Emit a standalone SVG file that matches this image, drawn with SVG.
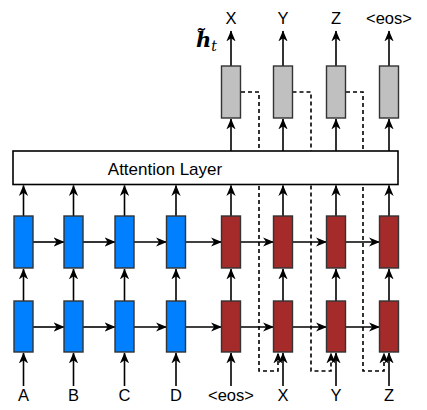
<svg xmlns="http://www.w3.org/2000/svg" width="427" height="410" viewBox="0 0 427 410">
<style>
.enc{fill:#0080ff;stroke:#333;stroke-width:1.4}
.dec{fill:#a52a2a;stroke:#333;stroke-width:1.4}
.gry{fill:#c0c0c0;stroke:#333;stroke-width:1.4}
.ln{stroke:#000;stroke-width:1.6;fill:none;marker-end:url(#ah)}
.ds{stroke:#000;stroke-width:1.6;fill:none;stroke-dasharray:4 3;marker-end:url(#ah)}
.lbl{font-family:"Liberation Sans",Arial,sans-serif;font-size:16.5px;fill:#000;text-anchor:middle}
</style>
<defs>
<marker id="ah" markerUnits="userSpaceOnUse" markerWidth="11" markerHeight="11" viewBox="0 0 10 10" refX="9.5" refY="5" orient="auto">
<path d="M0,0.8 L10,5 L0,9.2 L2.8,5 z" fill="#000"/>
</marker>
</defs>
<g id="connectors">
<line class="ln" x1="23.5" y1="386" x2="23.5" y2="353"/>
<line class="ln" x1="73.5" y1="386" x2="73.5" y2="353"/>
<line class="ln" x1="124.5" y1="386" x2="124.5" y2="353"/>
<line class="ln" x1="176" y1="386" x2="176" y2="353"/>
<line class="ln" x1="231" y1="386" x2="231" y2="353"/>
<line class="ln" x1="283" y1="386" x2="283" y2="353"/>
<line class="ln" x1="336" y1="386" x2="336" y2="353"/>
<line class="ln" x1="389" y1="386" x2="389" y2="353"/>
<line class="ln" x1="23.5" y1="301" x2="23.5" y2="269"/>
<line class="ln" x1="73.5" y1="301" x2="73.5" y2="269"/>
<line class="ln" x1="124.5" y1="301" x2="124.5" y2="269"/>
<line class="ln" x1="176" y1="301" x2="176" y2="269"/>
<line class="ln" x1="231" y1="301" x2="231" y2="269"/>
<line class="ln" x1="283" y1="301" x2="283" y2="269"/>
<line class="ln" x1="336" y1="301" x2="336" y2="269"/>
<line class="ln" x1="389" y1="301" x2="389" y2="269"/>
<line class="ln" x1="23.5" y1="216" x2="23.5" y2="185.5"/>
<line class="ln" x1="73.5" y1="216" x2="73.5" y2="185.5"/>
<line class="ln" x1="124.5" y1="216" x2="124.5" y2="185.5"/>
<line class="ln" x1="176" y1="216" x2="176" y2="185.5"/>
<line class="ln" x1="231" y1="216" x2="231" y2="185.5"/>
<line class="ln" x1="283" y1="216" x2="283" y2="185.5"/>
<line class="ln" x1="336" y1="216" x2="336" y2="185.5"/>
<line class="ln" x1="389" y1="216" x2="389" y2="185.5"/>
<line class="ln" x1="231" y1="151" x2="231" y2="119"/>
<line class="ln" x1="283" y1="151" x2="283" y2="119"/>
<line class="ln" x1="336" y1="151" x2="336" y2="119"/>
<line class="ln" x1="389" y1="151" x2="389" y2="119"/>
<line class="ln" x1="231" y1="66" x2="231" y2="31"/>
<line class="ln" x1="283" y1="66" x2="283" y2="31"/>
<line class="ln" x1="336" y1="66" x2="336" y2="31"/>
<line class="ln" x1="389" y1="66" x2="389" y2="31"/>
<line class="ln" x1="33" y1="242" x2="64" y2="242"/>
<line class="ln" x1="83" y1="242" x2="115" y2="242"/>
<line class="ln" x1="134" y1="242" x2="166.5" y2="242"/>
<line class="ln" x1="185.5" y1="242" x2="221.5" y2="242"/>
<line class="ln" x1="240.5" y1="242" x2="273.5" y2="242"/>
<line class="ln" x1="292.5" y1="242" x2="326.5" y2="242"/>
<line class="ln" x1="345.5" y1="242" x2="379.5" y2="242"/>
<line class="ln" x1="33" y1="327" x2="64" y2="327"/>
<line class="ln" x1="83" y1="327" x2="115" y2="327"/>
<line class="ln" x1="134" y1="327" x2="166.5" y2="327"/>
<line class="ln" x1="185.5" y1="327" x2="221.5" y2="327"/>
<line class="ln" x1="240.5" y1="327" x2="273.5" y2="327"/>
<line class="ln" x1="292.5" y1="327" x2="326.5" y2="327"/>
<line class="ln" x1="345.5" y1="327" x2="379.5" y2="327"/>
<polyline class="ds" points="241,92 259,92 259,371 278,371 278,353"/>
<polyline class="ds" points="292.5,92 311,92 311,371 331,371 331,353"/>
<polyline class="ds" points="346,92 363,92 363,371 384,371 384,353"/>
</g>
<g id="attention">
<rect x="13" y="151" width="385" height="33.5" fill="#fff" stroke="#000" stroke-width="1.6"/>
<text x="165" y="175" font-family="Liberation Sans,Arial,sans-serif" font-size="17" text-anchor="middle">Attention Layer</text>
</g>
<g id="enc-top">
<rect class="enc" x="14" y="216" width="19" height="52"/>
<rect class="enc" x="64" y="216" width="19" height="52"/>
<rect class="enc" x="115" y="216" width="19" height="52"/>
<rect class="enc" x="166.5" y="216" width="19" height="52"/>
</g>
<g id="enc-bottom">
<rect class="enc" x="14" y="301" width="19" height="51"/>
<rect class="enc" x="64" y="301" width="19" height="51"/>
<rect class="enc" x="115" y="301" width="19" height="51"/>
<rect class="enc" x="166.5" y="301" width="19" height="51"/>
</g>
<g id="dec-top">
<rect class="dec" x="221.5" y="216" width="19" height="52"/>
<rect class="dec" x="273.5" y="216" width="19" height="52"/>
<rect class="dec" x="326.5" y="216" width="19" height="52"/>
<rect class="dec" x="379.5" y="216" width="19" height="52"/>
</g>
<g id="dec-bottom">
<rect class="dec" x="221.5" y="301" width="19" height="51"/>
<rect class="dec" x="273.5" y="301" width="19" height="51"/>
<rect class="dec" x="326.5" y="301" width="19" height="51"/>
<rect class="dec" x="379.5" y="301" width="19" height="51"/>
</g>
<g id="attn-hidden">
<rect class="gry" x="221.5" y="66" width="19" height="52"/>
<rect class="gry" x="273.5" y="66" width="19" height="52"/>
<rect class="gry" x="326.5" y="66" width="19" height="52"/>
<rect class="gry" x="379.5" y="66" width="19" height="52"/>
</g>
<g id="labels">
<text class="lbl" x="23.5" y="401">A</text>
<text class="lbl" x="73.5" y="401">B</text>
<text class="lbl" x="124.5" y="401">C</text>
<text class="lbl" x="176" y="401">D</text>
<text class="lbl" x="231" y="401">&lt;eos&gt;</text>
<text class="lbl" x="283" y="401">X</text>
<text class="lbl" x="336" y="401">Y</text>
<text class="lbl" x="389" y="401">Z</text>
<text class="lbl" x="231" y="24">X</text>
<text class="lbl" x="283" y="24">Y</text>
<text class="lbl" x="336" y="24">Z</text>
<text class="lbl" x="389" y="24">&lt;eos&gt;</text>
<text x="196" y="47" font-family="DejaVu Serif,serif" font-size="21" font-weight="bold" font-style="italic">h̃<tspan font-weight="normal" font-size="14" dy="4">t</tspan></text>
</g>
</svg>
